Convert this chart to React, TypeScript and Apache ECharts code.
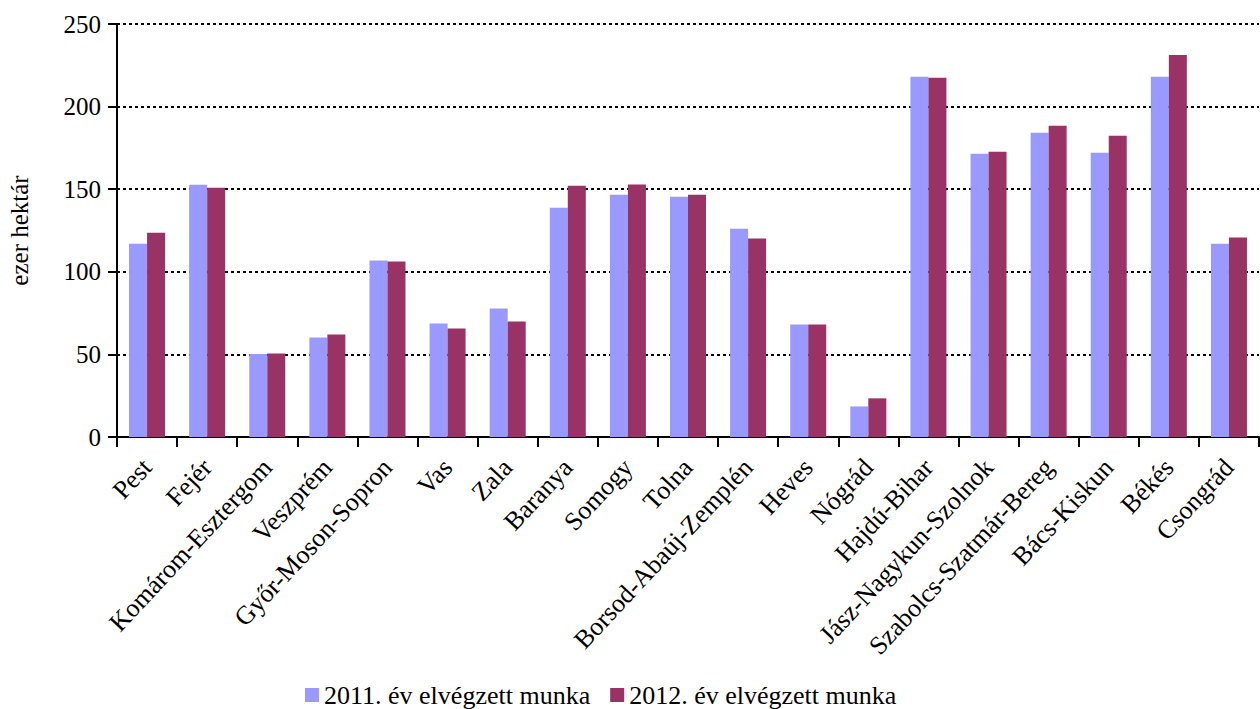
import React, { useEffect, useRef } from "react";
import * as echarts from "echarts";

const categories = [
  "Pest", "Fejér", "Komárom-Esztergom", "Veszprém", "Győr-Moson-Sopron", "Vas", "Zala",
  "Baranya", "Somogy", "Tolna", "Borsod-Abaúj-Zemplén", "Heves", "Nógrád", "Hajdú-Bihar",
  "Jász-Nagykun-Szolnok", "Szabolcs-Szatmár-Bereg", "Bács-Kiskun", "Békés", "Csongrád",
];
const values2011 = [117, 152.7, 50.2, 60.2, 106.8, 68.7, 77.8, 138.8, 146.7, 145.4, 126.1, 68.1, 18.5, 218, 171.4, 184.1, 172, 218, 117];
const values2012 = [123.7, 150.9, 50.6, 62, 106.2, 65.7, 69.9, 152.1, 152.9, 146.7, 120.1, 68.1, 23.4, 217.4, 172.6, 188.4, 182.3, 231.3, 120.7];
const seriesNames = ["2011. év elvégzett munka", "2012. év elvégzett munka"];
const yTicks = { min: 0, max: 250, interval: 50 };

const FONT = "'Liberation Serif', 'Times New Roman', serif";

export default function App() {
  const ref = useRef<HTMLDivElement>(null);
  useEffect(() => {
    if (!ref.current) return;
    const chart = echarts.init(ref.current, undefined, { renderer: "svg" });
    chart.setOption({
      animation: false,
      backgroundColor: "#fff",
      textStyle: { fontFamily: FONT, color: "#000" },
      grid: {
        left: 117,
        right: 1,
        top: 24,
        bottom: 272,
        containLabel: false,
        outerBoundsMode: "none",
      },
      legend: {
        left: 305,
        top: 682,
        itemWidth: 14,
        itemHeight: 14,
        itemGap: 20,
        padding: 0,
        icon: "rect",
        textStyle: { fontFamily: FONT, fontSize: 26, color: "#000", lineHeight: 26 },
        data: seriesNames,
      },
      xAxis: {
        type: "category",
        data: categories,
        axisLine: { lineStyle: { color: "#000", width: 2 } },
        axisTick: { show: true, interval: 0, length: 10, lineStyle: { color: "#000", width: 2 } },
        axisLabel: {
          interval: 0,
          rotate: 47,
          margin: 26,
          fontFamily: FONT,
          fontSize: 26,
          color: "#000",
        },
      },
      yAxis: {
        type: "value",
        min: yTicks.min,
        max: yTicks.max,
        interval: yTicks.interval,
        name: "ezer hektár",
        nameLocation: "middle",
        nameGap: 85,
        nameTextStyle: { fontFamily: FONT, fontSize: 25, color: "#000" },
        axisLine: { show: true, lineStyle: { color: "#000", width: 2 } },
        axisTick: { show: true, length: 9, lineStyle: { color: "#000", width: 2 } },
        axisLabel: { fontFamily: FONT, fontSize: 25, color: "#000", margin: 16 },
        splitLine: { show: true, lineStyle: { color: "#000", width: 2, type: [3, 3] } },
      },
      series: [
        {
          name: seriesNames[0],
          type: "bar",
          data: values2011,
          barWidth: 18,
          barGap: "0%",
          itemStyle: { color: "#9999FF" },
        },
        {
          name: seriesNames[1],
          type: "bar",
          data: values2012,
          barWidth: 18,
          barGap: "0%",
          itemStyle: { color: "#993366" },
        },
      ],
    });
    return () => chart.dispose();
  }, []);
  return (
    <div
      ref={ref}
      style={{ position: "fixed", left: 0, top: 0, width: 1260, height: 709, background: "#fff" }}
    />
  );
}
